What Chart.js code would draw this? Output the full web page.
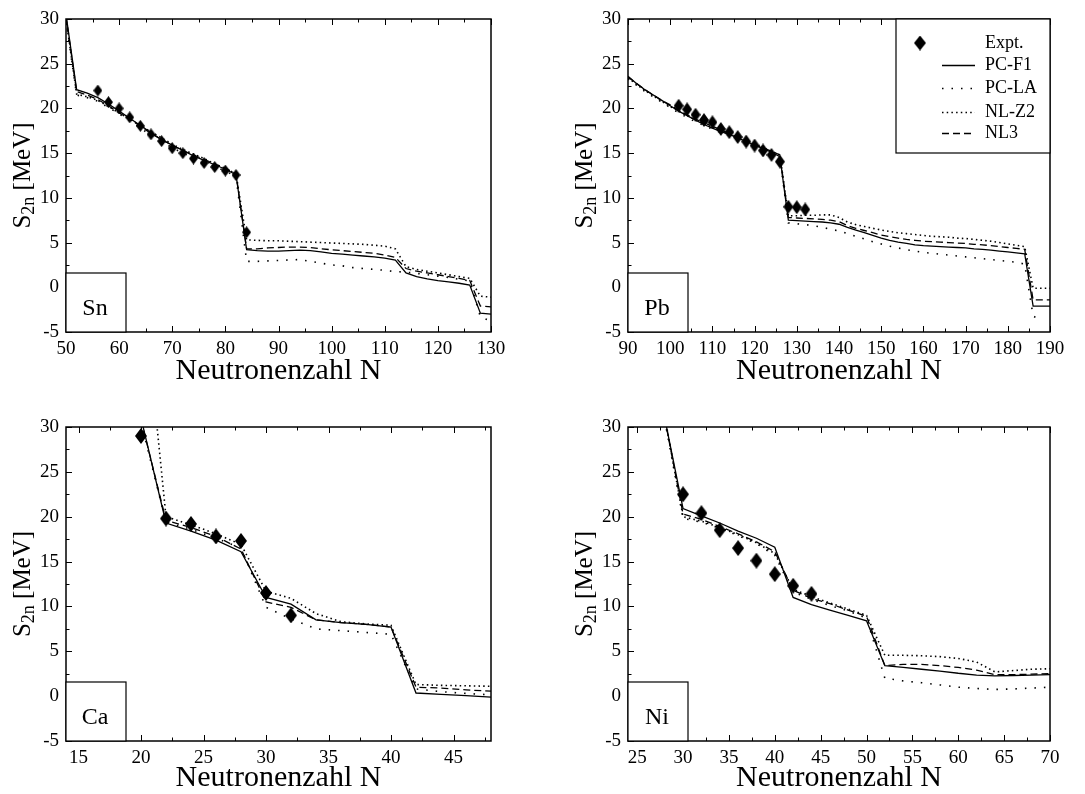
<!DOCTYPE html>
<html>
<head>
<meta charset="utf-8">
<script src="https://cdn.jsdelivr.net/npm/chart.js@4.4.0/dist/chart.umd.min.js"></script>
<style>
html,body{margin:0;padding:0;background:#fff;}
body{width:1085px;height:794px;position:relative;overflow:hidden;}
canvas{position:absolute;}
</style>
</head>
<body>
<canvas id="c1" width="542" height="397" style="left:0;top:0"></canvas>
<canvas id="c2" width="543" height="397" style="left:542px;top:0"></canvas>
<canvas id="c3" width="542" height="397" style="left:0;top:397px"></canvas>
<canvas id="c4" width="543" height="397" style="left:542px;top:397px"></canvas>
<script>
// ---------------- DATA ----------------
const modelNames = ['PC-F1', 'PC-LA', 'NL-Z2', 'NL3'];
const exptName = 'Expt.';
const xTitle = 'Neutronenzahl N';
const yTitleParts = ['S', '2n', ' [MeV]'];
const yRange = [-5, 30];
const yTicks = [-5, 0, 5, 10, 15, 20, 25, 30];

// Sn
const snLabel = 'Sn';
const snXRange = [50, 130];
const snXTicks = [50, 60, 70, 80, 90, 100, 110, 120, 130];
const snN = [50,52,54,56,58,60,62,64,66,68,70,72,74,76,78,80,82,84,86,88,90,92,94,96,98,100,102,104,106,108,110,112,114,116,118,120,122,124,126,128,130];
const snPCF1 = [30.5,22.1,21.7,21.2,20.5,19.7,18.9,18.1,17.3,16.5,15.9,15.3,14.7,14.2,13.7,13.2,12.6,4.2,4.1,4.05,4.05,4.1,4.15,4.1,3.95,3.8,3.7,3.6,3.5,3.4,3.25,3.05,1.6,1.2,0.95,0.75,0.6,0.45,0.25,-2.9,-3.0];
const snPCLA = [29.8,21.5,21.2,20.8,20.1,19.4,18.6,17.8,17.0,16.3,15.6,15.0,14.5,14.0,13.5,13.0,12.4,2.9,2.9,2.95,3.0,3.05,3.1,2.9,2.7,2.5,2.4,2.2,2.1,2.0,1.9,1.75,1.7,1.55,1.4,1.25,1.1,0.9,0.7,-3.3,-3.8];
const snNLZ2 = [30.0,21.6,21.3,20.9,20.2,19.5,18.8,18.1,17.4,16.7,16.0,15.4,14.9,14.4,13.8,13.3,12.7,5.3,5.25,5.2,5.2,5.15,5.1,5.05,5.0,4.95,4.9,4.85,4.8,4.7,4.6,4.3,2.3,2.0,1.8,1.6,1.4,1.2,1.0,-1.0,-1.1];
const snNL3 = [30.3,21.9,21.5,21.0,20.3,19.5,18.8,18.0,17.2,16.5,15.9,15.3,14.8,14.3,13.8,13.3,12.7,4.3,4.3,4.4,4.45,4.5,4.5,4.45,4.3,4.2,4.1,4.0,3.9,3.8,3.6,3.35,2.1,1.8,1.6,1.4,1.2,1.0,0.75,-2.1,-2.2];
const snExptN = [56,58,60,62,64,66,68,70,72,74,76,78,80,82,84];
const snExpt = [22.0,20.7,20.0,19.0,18.05,17.1,16.35,15.55,15.0,14.4,13.9,13.45,13.05,12.55,6.15];

// Pb
const pbLabel = 'Pb';
const pbXRange = [90, 190];
const pbXTicks = [90, 100, 110, 120, 130, 140, 150, 160, 170, 180, 190];
const pbN = [90,92,94,96,98,100,102,104,106,108,110,112,114,116,118,120,122,124,126,128,130,132,134,136,138,140,142,144,146,148,150,152,154,156,158,160,162,164,166,168,170,172,174,176,178,180,182,184,186,188,190];
const pbPCF1 = [23.6,22.8,22.1,21.5,20.9,20.3,19.7,19.2,18.7,18.2,17.8,17.4,17.1,16.7,16.3,15.9,15.5,15.1,14.6,7.5,7.45,7.4,7.35,7.3,7.2,7.05,6.7,6.4,6.1,5.8,5.5,5.25,5.05,4.9,4.75,4.65,4.6,4.55,4.5,4.45,4.4,4.3,4.25,4.15,4.05,3.95,3.85,3.75,-2.1,-2.1,-2.1];
const pbPCLA = [23.3,22.6,21.9,21.3,20.7,20.1,19.5,19.0,18.5,18.1,17.7,17.3,17.0,16.6,16.2,15.8,15.4,15.0,14.5,7.2,7.1,7.0,6.9,6.7,6.5,6.3,6.0,5.7,5.4,5.1,4.85,4.6,4.4,4.2,4.05,3.9,3.8,3.7,3.6,3.5,3.4,3.3,3.2,3.1,3.0,2.9,2.8,2.6,-3.2,-3.8,null];
const pbNLZ2 = [23.4,22.7,22.0,21.4,20.8,20.2,19.7,19.2,18.7,18.3,17.9,17.5,17.2,16.8,16.4,16.0,15.6,15.2,14.8,8.0,8.0,8.05,8.05,8.1,8.1,7.8,7.3,7.0,6.8,6.6,6.4,6.25,6.1,6.0,5.9,5.8,5.7,5.65,5.6,5.5,5.45,5.35,5.25,5.15,5.0,4.85,4.7,4.55,-0.1,-0.1,-0.1];
const pbNL3 = [23.5,22.8,22.1,21.5,20.9,20.4,19.8,19.3,18.8,18.4,18.0,17.6,17.2,16.8,16.4,16.0,15.6,15.2,14.8,7.8,7.75,7.7,7.65,7.6,7.5,7.35,6.9,6.6,6.35,6.1,5.85,5.65,5.5,5.35,5.25,5.15,5.1,5.05,5.0,4.95,4.9,4.8,4.75,4.65,4.55,4.45,4.35,4.25,-1.4,-1.4,-1.4];
const pbExptN = [102,104,106,108,110,112,114,116,118,120,122,124,126,128,130,132];
const pbExpt = [20.3,19.9,19.3,18.7,18.45,17.7,17.35,16.8,16.3,15.85,15.3,14.8,14.05,9.0,8.95,8.7];

// Ca
const caLabel = 'Ca';
const caXRange = [14, 48];
const caXTicks = [15, 20, 25, 30, 35, 40, 45];
const caN = [20,22,24,26,28,30,32,34,36,38,40,42,44,46,48];
const caPCF1 = [31.0,19.3,18.4,17.4,16.1,11.0,10.25,8.5,8.2,8.0,7.7,0.35,0.2,0.05,-0.1];
const caPCLA = [30.5,19.4,18.6,17.6,16.5,9.9,8.6,7.5,7.3,7.1,6.9,0.8,0.5,0.3,0.15];
const caNLZ2 = [48.0,20.0,19.1,18.1,16.9,11.7,10.9,9.2,8.3,8.05,7.9,1.3,1.2,1.15,1.1];
const caNL3 = [30.8,19.6,18.8,17.8,16.4,10.5,9.9,8.5,8.2,8.0,7.7,1.0,0.9,0.7,0.55];
const caExptN = [20,22,24,26,28,30,32];
const caExpt = [29.0,19.8,19.2,17.8,17.3,11.5,9.0];

// Ni
const niLabel = 'Ni';
const niXRange = [24, 70];
const niXTicks = [25, 30, 35, 40, 45, 50, 55, 60, 65, 70];
const niN = [28,30,32,34,36,38,40,42,44,46,48,50,52,54,56,58,60,62,64,66,68,70];
const niPCF1 = [31.0,20.9,20.1,19.3,18.4,17.6,16.6,11.0,10.2,9.6,9.0,8.4,3.4,3.2,3.0,2.8,2.55,2.35,2.25,2.3,2.35,2.4];
const niPCLA = [30.8,19.8,19.4,18.7,17.9,17.0,15.7,11.6,10.8,10.1,9.5,8.7,2.0,1.7,1.5,1.25,1.0,0.85,0.75,0.8,0.9,1.0];
const niNLZ2 = [31.2,20.0,19.5,18.8,18.0,17.1,15.9,11.9,11.1,10.4,9.7,9.0,4.55,4.55,4.5,4.4,4.2,3.8,2.7,2.85,3.0,3.05];
const niNL3 = [31.0,20.3,19.7,18.9,18.1,17.2,16.1,11.8,10.9,10.3,9.6,8.9,3.4,3.55,3.55,3.4,3.2,2.9,2.4,2.4,2.45,2.5];
const niExptN = [30,32,34,36,38,40,42,44];
const niExpt = [22.5,20.4,18.5,16.5,15.1,13.6,12.3,11.4];

// ---------------- STYLE ----------------
const FONT = '"Liberation Serif", "Times New Roman", serif';
const lineStyles = [
  {borderWidth: 1.3, borderDash: []},          // PC-F1 solid
  {borderWidth: 1.6, borderDash: [1.5, 8]},    // PC-LA sparse dots
  {borderWidth: 1.6, borderDash: [1.5, 3.2]},  // NL-Z2 dense dots
  {borderWidth: 1.3, borderDash: [7, 4]}       // NL3 dashed
];

function diamond(w, h) {
  const c = document.createElement('canvas');
  c.width = w; c.height = h;
  const g = c.getContext('2d');
  g.fillStyle = '#000';
  g.beginPath();
  g.moveTo(w / 2, 0); g.lineTo(w, h / 2); g.lineTo(w / 2, h); g.lineTo(0, h / 2);
  g.closePath(); g.fill();
  return c;
}

function pts(N, v) { return N.map((n, i) => ({x: n, y: v[i]})); }

const decorPlugin = {
  id: 'decor',
  afterDatasetsDraw(chart) {
    const o = chart.options.plugins.decor;
    const {ctx, chartArea: a, scales: {x, y}} = chart;
    ctx.save();
    // inward ticks
    ctx.strokeStyle = '#000';
    ctx.lineWidth = 1;
    ctx.beginPath();
    const xm = o.xMajor / 2;
    for (let v = Math.ceil(x.min / xm - 1e-9) * xm; v <= x.max + 1e-9; v += xm) {
      const px = Math.round(x.getPixelForValue(v)) + 0.5;
      const major = Math.abs(v / o.xMajor - Math.round(v / o.xMajor)) < 1e-6;
      const L = major ? 6 : 3.5;
      ctx.moveTo(px, a.bottom); ctx.lineTo(px, a.bottom - L);
      ctx.moveTo(px, a.top); ctx.lineTo(px, a.top + L);
    }
    for (let v = y.min; v <= y.max + 1e-9; v += 2.5) {
      const py = Math.round(y.getPixelForValue(v)) + 0.5;
      const major = Math.abs(v / 5 - Math.round(v / 5)) < 1e-6;
      const L = major ? 6 : 3.5;
      ctx.moveTo(a.left, py); ctx.lineTo(a.left + L, py);
    }
    ctx.stroke();
    // frame
    ctx.lineWidth = 1.5;
    ctx.strokeRect(a.left, a.top, a.right - a.left, a.bottom - a.top);
    // element label box
    ctx.lineWidth = 1.2;
    ctx.fillStyle = '#fff';
    ctx.fillRect(a.left, a.bottom - 59, 60, 59);
    ctx.strokeRect(a.left, a.bottom - 59, 60, 59);
    ctx.fillStyle = '#000';
    ctx.font = '24px ' + FONT;
    ctx.textAlign = 'center';
    ctx.textBaseline = 'alphabetic';
    ctx.fillText(o.label, a.left + 29, a.bottom - 17);
    // y title with subscript
    ctx.save();
    ctx.translate(a.left - 44, (a.top + a.bottom) / 2);
    ctx.rotate(-Math.PI / 2);
    const big = '25px ' + FONT, small = '18px ' + FONT;
    ctx.textAlign = 'left';
    ctx.font = big;
    const w1 = ctx.measureText(yTitleParts[0]).width;
    const w3 = ctx.measureText(yTitleParts[2]).width;
    ctx.font = small;
    const w2 = ctx.measureText(yTitleParts[1]).width;
    let sx = -(w1 + w2 + w3) / 2;
    ctx.font = big; ctx.fillText(yTitleParts[0], sx, 8);
    ctx.font = small; ctx.fillText(yTitleParts[1], sx + w1, 12);
    ctx.font = big; ctx.fillText(yTitleParts[2], sx + w1 + w2, 8);
    ctx.restore();
    // legend
    if (o.legend) {
      const bw = 154, bh = 134;
      const bx = a.right - bw, by = a.top;
      ctx.fillStyle = '#fff';
      ctx.fillRect(bx, by, bw, bh);
      ctx.lineWidth = 1.2;
      ctx.strokeRect(bx, by, bw, bh);
      ctx.fillStyle = '#000';
      ctx.font = '18px ' + FONT;
      ctx.textAlign = 'left';
      ctx.textBaseline = 'middle';
      const rows = [24, 46, 69, 93, 114];
      const dm = o.legendDiamond;
      ctx.drawImage(dm, bx + 24 - dm.width / 2, by + rows[0] - dm.height / 2);
      ctx.fillText(exptName, bx + 89, by + rows[0]);
      modelNames.forEach((nm, i) => {
        const ry = Math.round(by + rows[i + 1]) + 0.5;
        ctx.beginPath();
        ctx.lineWidth = lineStyles[i].borderWidth;
        ctx.setLineDash(lineStyles[i].borderDash);
        ctx.moveTo(bx + 46, ry); ctx.lineTo(bx + 79, ry);
        ctx.stroke();
        ctx.setLineDash([]);
        ctx.fillText(nm, bx + 89, by + rows[i + 1]);
      });
    }
    ctx.restore();
  }
};

function makePanel(id, cfg) {
  const models = [cfg.pcf1, cfg.pcla, cfg.nlz2, cfg.nl3];
  const datasets = [{
    label: exptName,
    data: pts(cfg.exptN, cfg.expt),
    showLine: false,
    pointStyle: diamond(cfg.dw, cfg.dh),
    pointRadius: 6,
    pointHoverRadius: 6,
    borderColor: '#000',
    backgroundColor: '#000'
  }];
  models.forEach((m, i) => {
    datasets.push({
      label: modelNames[i],
      data: pts(cfg.N, m),
      borderColor: '#000',
      backgroundColor: '#000',
      borderWidth: lineStyles[i].borderWidth,
      borderDash: lineStyles[i].borderDash,
      pointRadius: 0,
      pointHoverRadius: 0,
      tension: 0,
      fill: false,
      spanGaps: false
    });
  });
  new Chart(document.getElementById(id), {
    type: 'line',
    data: {datasets},
    plugins: [decorPlugin],
    options: {
      responsive: false,
      animation: false,
      devicePixelRatio: 1,
      events: [],
      layout: {padding: {left: 0, top: cfg.top, right: cfg.right, bottom: 0}},
      plugins: {
        legend: {display: false},
        tooltip: {enabled: false},
        decor: {label: cfg.label, xMajor: cfg.xMajor, legend: !!cfg.legend, legendDiamond: diamond(12, 15)}
      },
      scales: {
        x: {
          type: 'linear',
          min: cfg.xRange[0], max: cfg.xRange[1],
          afterBuildTicks: s => { s.ticks = cfg.xTicks.map(v => ({value: v})); },
          afterFit: s => { s.height = cfg.bottomH; },
          grid: {display: false, drawTicks: false, tickLength: 0},
          border: {display: false},
          ticks: {
            autoSkip: false, maxRotation: 0, padding: 6, color: '#000',
            font: {family: FONT, size: 19},
            callback: v => String(v)
          },
          title: {
            display: true, text: xTitle, color: '#000',
            font: {family: FONT, size: 30, lineHeight: 1},
            padding: {top: 0, bottom: cfg.titlePad}
          }
        },
        y: {
          type: 'linear',
          min: yRange[0], max: yRange[1],
          afterBuildTicks: s => { s.ticks = yTicks.map(v => ({value: v})); },
          afterFit: s => { s.width = cfg.leftW; },
          grid: {display: false, drawTicks: false, tickLength: 0},
          border: {display: false},
          ticks: {
            autoSkip: false, padding: 7, color: '#000',
            font: {family: FONT, size: 19},
            callback: v => String(v)
          }
        }
      }
    }
  });
}

makePanel('c1', {label: snLabel, N: snN, pcf1: snPCF1, pcla: snPCLA, nlz2: snNLZ2, nl3: snNL3,
  exptN: snExptN, expt: snExpt, xRange: snXRange, xTicks: snXTicks, xMajor: 10,
  dw: 9, dh: 12, top: 19, right: 51, bottomH: 65, leftW: 66, titlePad: 11});
makePanel('c2', {label: pbLabel, N: pbN, pcf1: pbPCF1, pcla: pbPCLA, nlz2: pbNLZ2, nl3: pbNL3,
  exptN: pbExptN, expt: pbExpt, xRange: pbXRange, xTicks: pbXTicks, xMajor: 10,
  dw: 10, dh: 14, top: 19, right: 35, bottomH: 65, leftW: 86, titlePad: 11, legend: true});
makePanel('c3', {label: caLabel, N: caN, pcf1: caPCF1, pcla: caPCLA, nlz2: caNLZ2, nl3: caNL3,
  exptN: caExptN, expt: caExpt, xRange: caXRange, xTicks: caXTicks, xMajor: 5,
  dw: 12, dh: 16, top: 30, right: 51, bottomH: 53, leftW: 66, titlePad: 1});
makePanel('c4', {label: niLabel, N: niN, pcf1: niPCF1, pcla: niPCLA, nlz2: niNLZ2, nl3: niNL3,
  exptN: niExptN, expt: niExpt, xRange: niXRange, xTicks: niXTicks, xMajor: 5,
  dw: 12, dh: 16, top: 30, right: 35, bottomH: 53, leftW: 86, titlePad: 1});
</script>
</body>
</html>
